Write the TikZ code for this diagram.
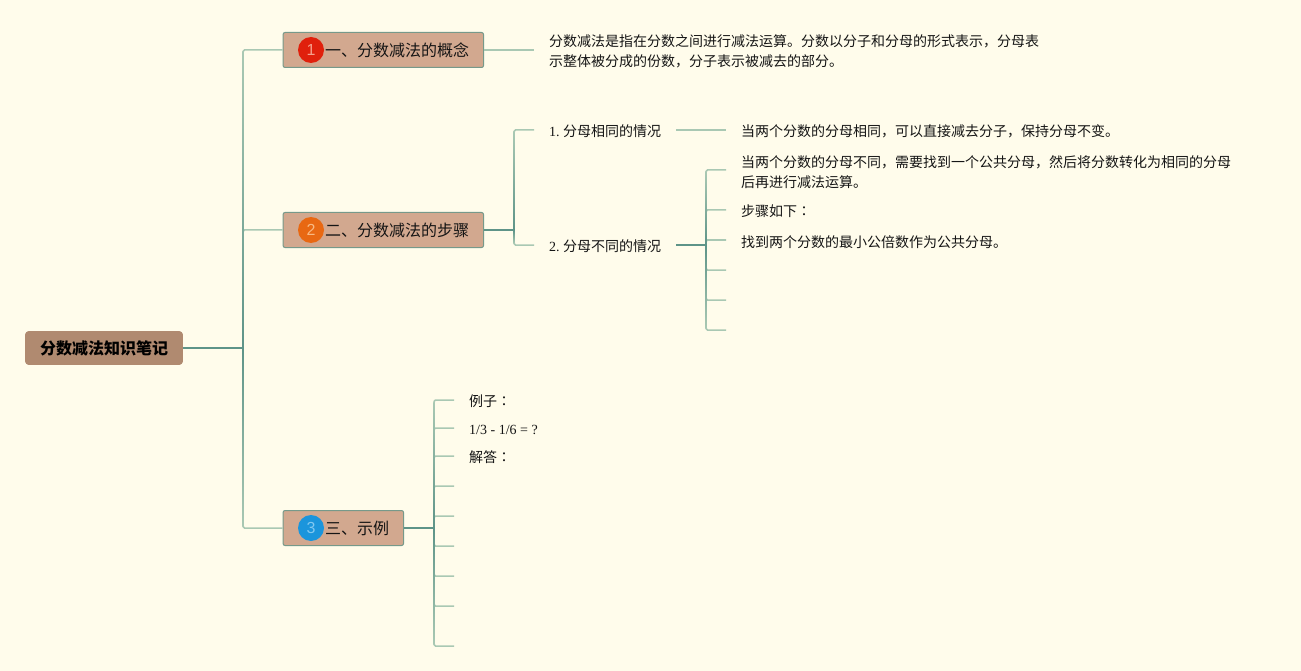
\documentclass[tikz,border=0pt]{standalone}
\usepackage{fontspec}
\setmainfont{Liberation Serif}
\newfontfamily\cjk{Noto Sans CJK SC}
\newfontfamily\cjktc{Noto Sans CJK TC}
\newfontfamily\digitfont{Liberation Sans}
\definecolor{bg}{HTML}{FFFCEB}
\definecolor{lightline}{HTML}{A9C8B3}
\definecolor{midline}{HTML}{93BAA8}
\definecolor{darkline}{HTML}{5E9488}
\definecolor{rootfill}{HTML}{B08A70}
\definecolor{topicfill}{HTML}{D2A88F}
\definecolor{topicline}{HTML}{76998A}
\definecolor{inktext}{HTML}{151515}
\newcommand{\colonmark}{{\cjktc ：}}
\newcommand{\vbar}[3]{%
  \shade[top color=lightline,middle color=midline,bottom color=darkline] ([xshift=-.75pt,yshift=-2pt]#1) rectangle ([xshift=.75pt]#2);
  \shade[top color=darkline,middle color=midline,bottom color=lightline] ([xshift=-.75pt]#2) rectangle ([xshift=.75pt,yshift=2pt]#3);}
\tikzset{
  x=1pt,y=-1pt,
  rootbox/.style={draw=rootfill,fill=rootfill,rounded corners=3pt,line width=.6pt,minimum width=157pt,minimum height=33pt,inner sep=0pt},
  roottext/.style={inner sep=0pt,text=black,font=\fontsize{16}{20}\selectfont\cjk\bfseries},
  topicbox/.style={draw=topicline,fill=topicfill,rounded corners=2pt,line width=1pt,minimum height=35pt,inner sep=0pt},
  topictext/.style={inner sep=0pt,anchor=west,text=inktext,font=\fontsize{16}{20}\selectfont\cjk},
  leaf/.style={inner sep=0pt,anchor=west,align=left,text=inktext,font=\fontsize{14}{20}\selectfont\cjk},
  latinleaf/.style={inner sep=0pt,anchor=west,text=inktext,font=\fontsize{14}{20}\selectfont},
  conn/.style={draw=lightline,line width=1.5pt,rounded corners=1.5pt},
  trunk/.style={draw=darkline,line width=1.5pt},
  badge/.style={circle,minimum size=26pt,inner sep=0pt,font=\fontsize{16}{16}\selectfont\digitfont},
}
\begin{document}
\begin{tikzpicture}
\fill[bg] (0,0) rectangle (1301,671);
\useasboundingbox (0,0) rectangle (1301,671);

% root and topics
\node[rootbox] (root) at (104,348) {};
\node[roottext] (rt) at (104,348.6) {分数减法知识笔记};
\node[topicbox,minimum width=200.5pt] (t1) at (383.3,50) {};
\node[topicbox,minimum width=200.5pt] (t2) at (383.3,230) {};
\node[topicbox,minimum width=120.5pt] (t3) at (343.3,528) {};
\node[badge,fill={rgb,255:red,224;green,32;blue,12},text={rgb,255:red,246;green,160;blue,140}] (b1) at (311,50) {1};
\node[badge,fill={rgb,255:red,232;green,104;blue,18},text={rgb,255:red,248;green,185;blue,130}] (b2) at (311,230) {2};
\node[badge,fill={rgb,255:red,27;green,149;blue,220},text={rgb,255:red,130;green,200;blue,240}] (b3) at (311,528) {3};
\node[topictext] (tt1) at (325,50.8) {一、分数减法的概念};
\node[topictext] (tt2) at (325,230.8) {二、分数减法的步骤};
\node[topictext] (tt3) at (325,528.8) {三、示例};

% section 1
\node[leaf] (a1) at (549,51.7) {分数减法是指在分数之间进行减法运算。分数以分子和分母的形式表示，分母表\\示整体被分成的份数，分子表示被减去的部分。};

% section 2
\node[latinleaf] (s1) at (549,131.5) {1.\hspace{3.5pt}{\cjk 分母相同的情况}};
\node[latinleaf] (s2) at (549,246.5) {2.\hspace{3.5pt}{\cjk 分母不同的情况}};
\node[leaf] (d1) at (741,131.7) {当两个分数的分母相同，可以直接减去分子，保持分母不变。};
\node[leaf] (d2) at (741,171.7) {当两个分数的分母不同，需要找到一个公共分母，然后将分数转化为相同的分母\\后再进行减法运算。};
\node[leaf] (d3) at (741,211.5) {步骤如下\colonmark};
\node[leaf] (d4) at (741,241.7) {找到两个分数的最小公倍数作为公共分母。};

% section 3
\node[leaf] (e1) at (469,401.5) {例子\colonmark};
\node[latinleaf] (e2) at (469,429.5) {1/3 - 1/6 = ?};
\node[leaf] (e3) at (469,457.5) {解答\colonmark};

% junctions
\coordinate (jroot) at (243,348);
\coordinate (jt2) at (514,230);
\coordinate (js2) at (706,245);
\coordinate (jt3) at (434,528);

% free ends
\coordinate (ea1) at (534,50);
\coordinate (es1) at (534,130);
\coordinate (es2) at (534,245);
\coordinate (fs1a) at (676,130);
\coordinate (fs1b) at (726,130);
\coordinate (fs2) at (676,245);
\foreach \n/\yy in {p1/170,p2/210,p3/240,p4/270,p5/300,p6/330}
  \coordinate (\n) at (726,\yy);
\foreach \n/\yy in {q1/400,q2/428,q3/456,q4/486,q5/516,q6/546,q7/576,q8/606,q9/646}
  \coordinate (\n) at (454,\yy);

% connectors
\draw[conn] (jroot) |- (t1.west);
\draw[conn] (jroot) |- (t2.west);
\draw[conn] (jroot) |- (t3.west);
\draw[conn] (t1.east) -- (ea1);
\draw[conn] (jt2) |- (es1);
\draw[conn] (jt2) |- (es2);
\draw[conn] (fs1a) -- (fs1b);
\foreach \n in {p1,p2,p3,p4,p5,p6} \draw[conn] (js2) |- (\n);
\foreach \n in {q1,q2,q3,q4,q5,q6,q7,q8,q9} \draw[conn] (jt3) |- (\n);

% darker stems
\vbar{243,50}{jroot}{243,528}
\vbar{514,130}{jt2}{514,245}
\vbar{706,170}{js2}{706,330}
\vbar{434,400}{jt3}{434,646}
\draw[trunk] (root.east) -- (jroot);
\draw[trunk] (t2.east) -- (jt2);
\draw[trunk] (fs2) -- (js2);
\draw[trunk] (t3.east) -- (jt3);
\end{tikzpicture}
\end{document}
